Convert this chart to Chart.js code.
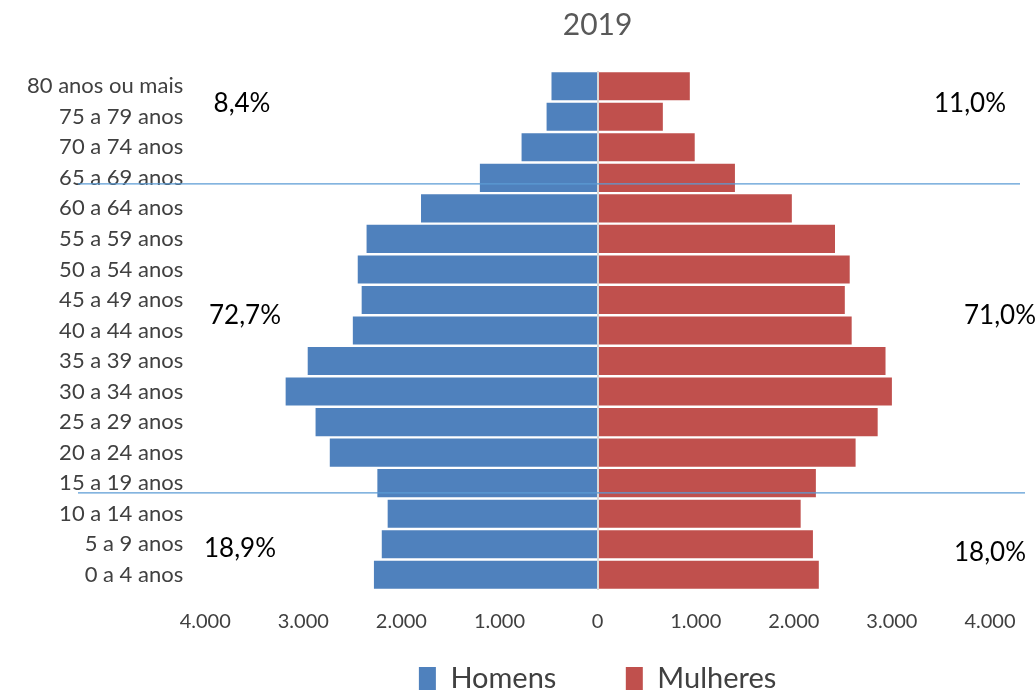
<!DOCTYPE html>
<html>
<head>
<meta charset="utf-8">
<script src="https://cdn.jsdelivr.net/npm/chart.js@4"></script>
<style>
  html, body { margin: 0; padding: 0; background: #fff; }
  #wrap { width: 1036px; height: 695px; }
</style>
</head>
<body>
<div id="wrap"><canvas id="Piramide"></canvas></div>
<script>
var faixas = [
  "80 anos ou mais", "75 a 79 anos", "70 a 74 anos", "65 a 69 anos",
  "60 a 64 anos", "55 a 59 anos", "50 a 54 anos", "45 a 49 anos",
  "40 a 44 anos", "35 a 39 anos", "30 a 34 anos", "25 a 29 anos",
  "20 a 24 anos", "15 a 19 anos", "10 a 14 anos", "5 a 9 anos", "0 a 4 anos"
];
var homens = [470, 520, 775, 1200, 1800, 2355, 2445, 2405, 2495, 2955, 3180, 2875, 2730, 2245, 2140, 2200, 2280];
var mulheres = [940, 665, 990, 1400, 1980, 2420, 2570, 2520, 2590, 2935, 3000, 2855, 2630, 2225, 2070, 2195, 2255];
var xTicks = [-4000, -3000, -2000, -1000, 0, 1000, 2000, 3000, 4000];
var pctHomens = ["8,4%", "72,7%", "18,9%"];
var pctMulheres = ["11,0%", "71,0%", "18,0%"];

var corHomens = "#4f81bd";
var corMulheres = "#c0504d";

function milhar(v) {
  return Math.abs(v).toString().replace(/\B(?=(\d{3})+(?!\d))/g, ".");
}

// linha do zero, linhas de corte e percentuais por grupo
var extras = {
  id: "extras",
  afterDatasetsDraw: function (chart) {
    var ctx = chart.ctx;
    var y = chart.scales.y;
    var x = chart.scales.x;
    ctx.save();
    ctx.strokeStyle = "#d9d9d9";
    ctx.lineWidth = 2;
    var x0 = Math.round(x.getPixelForValue(0));
    ctx.beginPath();
    ctx.moveTo(x0, chart.chartArea.top);
    ctx.lineTo(x0, chart.chartArea.bottom);
    ctx.stroke();

    ctx.strokeStyle = "#5b9bd5";
    ctx.lineWidth = 1.2;
    [[3.2, 78, 1020], [13.32, 78, 1025]].forEach(function (l) {
      var py = y.getPixelForValue(l[0]);
      ctx.beginPath();
      ctx.moveTo(l[1], py);
      ctx.lineTo(l[2], py);
      ctx.stroke();
    });

    ctx.fillStyle = "#000";
    ctx.font = "26px Lato";
    ctx.textAlign = "center";
    ctx.textBaseline = "middle";
    var posH = [[242, 0.56], [245, 7.52], [240, 15.15]];
    var posM = [[970, 0.56], [1000, 7.52], [990, 15.28]];
    pctHomens.forEach(function (t, i) {
      ctx.fillText(t, posH[i][0], y.getPixelForValue(posH[i][1]));
    });
    pctMulheres.forEach(function (t, i) {
      ctx.fillText(t, posM[i][0], y.getPixelForValue(posM[i][1]));
    });
    ctx.restore();
  }
};

new Chart("Piramide", {
  type: "bar",
  data: {
    labels: faixas,
    datasets: [{
      label: "Homens",
      data: homens.map(function (v) { return -v; }),
      backgroundColor: corHomens
    }, {
      label: "Mulheres",
      data: mulheres,
      backgroundColor: corMulheres
    }]
  },
  options: {
    indexAxis: "y",
    responsive: true,
    maintainAspectRatio: false,
    animation: false,
    layout: { padding: { left: 5, right: 46, top: 6, bottom: 0 } },
    datasets: { bar: { categoryPercentage: 1, barPercentage: 0.92 } },
    scales: {
      x: {
        stacked: true,
        min: -4000,
        max: 4000,
        afterBuildTicks: function (s) {
          s.ticks = xTicks.map(function (v) { return { value: v }; });
        },
        grid: { display: false, drawTicks: false },
        border: { display: false },
        ticks: {
          callback: function (v) { return milhar(v); },
          color: "#404040",
          font: { family: "Lato", size: 20 },
          padding: 20,
          maxRotation: 0
        }
      },
      y: {
        stacked: true,
        grid: { display: false, drawTicks: false },
        border: { display: false },
        ticks: {
          color: "#404040",
          font: { family: "Lato", size: 22 },
          padding: 22,
          autoSkip: false
        }
      }
    },
    plugins: {
      title: {
        display: true,
        fullSize: false,
        text: "2019",
        color: "#595959",
        font: { family: "Lato", size: 30, weight: "normal" },
        padding: { top: 1, bottom: 28 }
      },
      legend: {
        position: "bottom",
        fullSize: false,
        maxHeight: 41,
        labels: {
          color: "#404040",
          font: { family: "Lato", size: 29 },
          boxWidth: 17,
          boxHeight: 23,
          padding: 10,
          generateLabels: function (chart) {
            var items = Chart.defaults.plugins.legend.labels.generateLabels(chart);
            items[0].text = items[0].text + "        ";
            return items;
          }
        }
      },
      tooltip: { enabled: false }
    }
  },
  plugins: [extras]
});
</script>
</body>
</html>
